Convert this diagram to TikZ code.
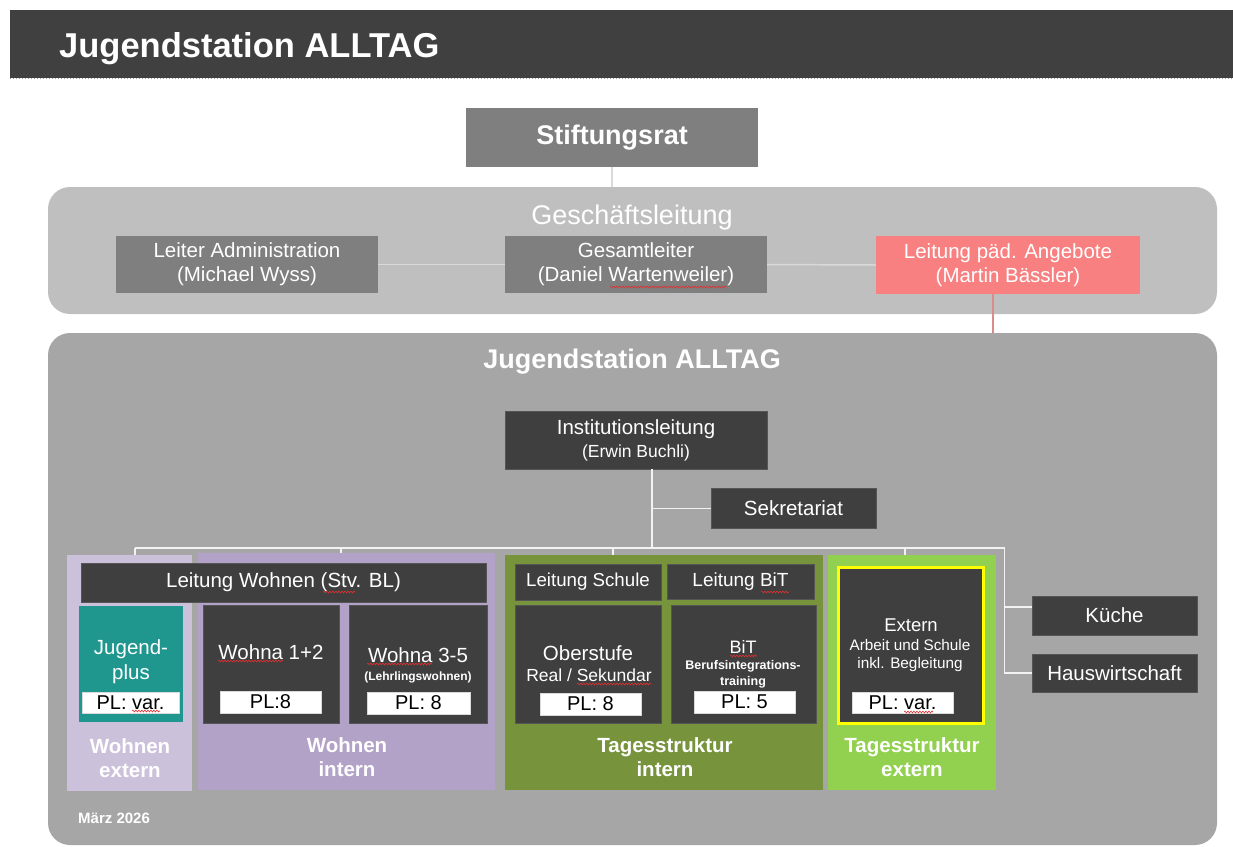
\documentclass[tikz,border=0pt]{standalone}
\usepackage{fontspec}
\setmainfont{Liberation Sans}
\usetikzlibrary{calc,decorations.pathmorphing}
\definecolor{hdr}{HTML}{404040}
\definecolor{midgray}{HTML}{7F7F7F}
\definecolor{glgray}{HTML}{BFBFBF}
\definecolor{jsgray}{HTML}{A6A6A6}
\definecolor{darkbox}{HTML}{3F3F3F}
\definecolor{darkedge}{HTML}{555555}
\definecolor{salmon}{HTML}{F88080}
\definecolor{lavlight}{HTML}{CCC1DA}
\definecolor{lavmid}{HTML}{B3A2C7}
\definecolor{tealbox}{HTML}{1F968E}
\definecolor{olivepanel}{HTML}{77933C}
\definecolor{greenpanel}{HTML}{92D050}
\definecolor{yelline}{HTML}{FFFF00}
\definecolor{connlight}{HTML}{D9D9D9}
\definecolor{connwhite}{HTML}{F2F2F2}
\definecolor{connred}{HTML}{D98C8C}
\definecolor{spellred}{HTML}{E03030}
\newcommand{\fsz}[2]{\fontsize{#1}{#2}\selectfont}
\tikzset{
  boxbase/.style={inner sep=0pt, align=center, text=white},
  graybox/.style={boxbase, fill=midgray},
  darkbx/.style={boxbase, fill=darkbox, draw=darkedge, line width=0.8pt},
  plbox/.style={inner sep=0pt, fill=white, draw=connlight, line width=0.6pt, text=black, font=\fsz{20}{22}},
  panelbox/.style={inner sep=0pt},
  wtxt/.style={inner sep=0pt, text=white, align=center},
  connL/.style={draw=connlight, line width=1.5pt},
  connW/.style={draw=connwhite, line width=1.5pt},
  connR/.style={draw=connred, line width=1.2pt},
  spell/.style={draw=spellred, line width=0.6pt, decorate, decoration={snake, amplitude=0.9pt, segment length=3pt}},
}
\begin{document}
\begin{tikzpicture}[x=1pt,y=-1pt]
\useasboundingbox (0,0) rectangle (1233,846);
\fill[white] (0,0) rectangle (1233,846);

% header
\node[fill=hdr, inner sep=0pt, minimum width=1223pt, minimum height=68pt, anchor=north west] (hdrbar) at (10,10) {};
\draw[dotted, draw=gray!80, line width=1pt] (hdrbar.south west) -- (hdrbar.south east);
\node[wtxt, anchor=base west, font=\bfseries\fsz{34.5}{38}] (title) at (59,57) {Jugendstation ALLTAG};

% Stiftungsrat
\node[graybox, minimum width=292pt, minimum height=59pt, font=\bfseries\fsz{27}{30}] (stift) at (612,137.5) {Stiftungsrat};

% Geschaeftsleitung panel
\node[panelbox, fill=glgray, rounded corners=22pt, minimum width=1169pt, minimum height=127pt] (gl) at (632.5,250.5) {};
\node[wtxt, font=\fsz{27}{30}] (gltitle) at (632,218) {Geschäftsleitung};
\node[graybox, minimum width=262pt, minimum height=57pt, font=\fsz{20.5}{24}] (admin) at (247,264.5) {Leiter Administration\\(Michael Wyss)};
\node[graybox, minimum width=262pt, minimum height=57pt, font=\fsz{20.5}{24}] (gesamt) at (636,264.5) {Gesamtleiter\\(Daniel Wartenweiler)};
\node[boxbase, fill=salmon, minimum width=264pt, minimum height=58pt, font=\fsz{20.5}{24}] (paed) at (1008,265) {Leitung päd. Angebote\\(Martin Bässler)};

\draw[connL] (stift.south) -- (stift.south |- gl.north);
\draw[connL] (admin.east) -- (gesamt.west);
\draw[connL] (gesamt.east) -- (paed.west);

% Jugendstation panel
\node[panelbox, fill=jsgray, rounded corners=22pt, minimum width=1169pt, minimum height=512pt] (js) at (632.5,589) {};
\coordinate (pj) at (993,333);
\draw[connR] (pj |- paed.south) -- (pj);
\node[wtxt, font=\bfseries\fsz{27}{30}] (jstitle) at (632,362) {Jugendstation ALLTAG};

\node[darkbx, minimum width=262pt, minimum height=58pt, font=\fsz{20.5}{23}] (inst) at (636,440) {Institutionsleitung\\{\fsz{17.5}{20}(Erwin Buchli)}};
\node[darkbx, minimum width=165pt, minimum height=40pt, font=\fsz{20.5}{24}] (sek) at (793.5,508.5) {Sekretariat};

% department panels
\node[panelbox, fill=lavlight, minimum width=125pt, minimum height=236pt] (wext) at (129.5,673) {};
\node[panelbox, fill=lavmid, minimum width=297pt, minimum height=237pt] (wint) at (346.5,671.5) {};
\node[panelbox, fill=olivepanel, minimum width=318pt, minimum height=235pt] (tint) at (664,672.5) {};
\node[panelbox, fill=greenpanel, minimum width=168pt, minimum height=235pt] (text) at (912,672.5) {};

% connectors inside
\coordinate (bus) at (652,548);
\coordinate (busL) at (135,548);
\coordinate (busR) at (1004.5,548);
\coordinate (dwi) at (341,548);
\coordinate (dti) at (613,548);
\coordinate (dte) at (905,548);
\coordinate (kb) at (1004.5,607);
\draw[connW] (inst.south -| bus) -- (bus);
\draw[connW] (bus |- sek.west) -- (sek.west);
\draw[connW] (busL) -- (busR);
\draw[connW] (busL) -- (busL |- wext.north);
\draw[connW] (dwi) -- (dwi |- wint.north);
\draw[connW] (dti) -- (dti |- tint.north);
\draw[connW] (dte) -- (dte |- text.north);

% Wohnen
\node[darkbx, minimum width=405pt, minimum height=39pt, font=\fsz{20.5}{24}] (lw) at (283.5,582.5) {Leitung Wohnen (Stv. BL)};
\node[boxbase, fill=tealbox, minimum width=104pt, minimum height=116pt] (jp) at (131,664) {};
\node[wtxt, font=\fsz{20.5}{25}] (jptxt) at (131,662) {Jugend-\\plus};
\node[plbox, minimum width=97pt, minimum height=21pt] (jppl) at (130.5,702.5) {PL: var.};

\node[darkbx, minimum width=136pt, minimum height=118pt] (w12) at (271,664) {};
\node[wtxt, font=\fsz{20.5}{24}] (w12txt) at (271,652) {Wohna 1+2};
\node[plbox, minimum width=101pt, minimum height=22pt] (w12pl) at (270.5,702) {PL:8};

\node[darkbx, minimum width=138pt, minimum height=118pt] (w35) at (418,664) {};
\node[wtxt, font=\fsz{20.5}{24}] (w35txt) at (418,655) {Wohna 3-5};
\node[wtxt, font=\bfseries\fsz{12}{14}] (w35sub) at (418,677) {(Lehrlingswohnen)};
\node[plbox, minimum width=103pt, minimum height=22pt] (w35pl) at (418.5,703) {PL: 8};

\node[wtxt, font=\bfseries\fsz{20.5}{24}] (wextlbl) at (130,758.5) {Wohnen\\extern};
\node[wtxt, font=\bfseries\fsz{20.5}{24}] (wintlbl) at (347,757.5) {Wohnen\\intern};

% Tagesstruktur intern
\node[darkbx, minimum width=146pt, minimum height=36pt, font=\fsz{18.7}{22}] (ls) at (588,582) {Leitung Schule};
\node[darkbx, minimum width=147pt, minimum height=35pt, font=\fsz{19}{22}] (lb) at (740.5,581.5) {Leitung BiT};
\node[darkbx, minimum width=146pt, minimum height=118pt] (ob) at (588,664) {};
\node[wtxt, font=\fsz{20.5}{24}] (obtxt) at (588,653) {Oberstufe};
\node[wtxt, font=\fsz{17.5}{20}] (obsub) at (589,675) {Real / Sekundar};
\node[plbox, minimum width=101pt, minimum height=22pt] (obpl) at (590.5,704) {PL: 8};

\node[darkbx, minimum width=145pt, minimum height=118pt] (bit) at (743.5,664) {};
\node[wtxt, font=\fsz{18}{20}] (bittxt) at (743,647) {BiT};
\node[wtxt, font=\bfseries\fsz{12.5}{16.5}] (bitsub) at (743,674.5) {Berufsintegrations-\\training};
\node[plbox, minimum width=101pt, minimum height=22pt] (bitpl) at (744.5,702) {PL: 5};

\node[wtxt, font=\bfseries\fsz{20.5}{24}] (tintlbl) at (665,757.5) {Tagesstruktur\\intern};

% Tagesstruktur extern
\node[boxbase, fill=darkbox, draw=yelline, line width=3pt, minimum width=145pt, minimum height=156pt] (ext) at (911,645.5) {};
\node[wtxt, font=\fsz{18.5}{21}] (exttxt) at (911,625) {Extern};
\node[wtxt, font=\fsz{15.3}{18}] (extsub) at (910,656) {Arbeit und Schule\\inkl. Begleitung};
\node[plbox, minimum width=101pt, minimum height=21pt] (extpl) at (902.5,702.5) {PL: var.};
\node[wtxt, font=\bfseries\fsz{20.5}{24}] (textlbl) at (912,757.5) {Tagesstruktur\\extern};

% Kueche / Hauswirtschaft
\node[darkbx, minimum width=165pt, minimum height=39pt, font=\fsz{20.5}{24}] (kue) at (1114.5,615.5) {Küche};
\node[darkbx, minimum width=165pt, minimum height=38pt, font=\fsz{20.5}{24}] (hw) at (1114.5,673) {Hauswirtschaft};
\draw[connW] (busR) -- (busR |- hw.west) -- (hw.west);
\draw[connW] (kb) -- (kb -| kue.west);

% spell-check squiggles as shown in the reference
\draw[spell] (610,287) -- (727,287);
\draw[spell] (323,592) -- (355,592);
\draw[spell] (132,711) -- (160,711);
\draw[spell] (218,661) -- (283,661);
\draw[spell] (367,664) -- (432,664);
\draw[spell] (577,684) -- (651,684);
\draw[spell] (761,592) -- (789,592);
\draw[spell] (730,656) -- (757,656);
\draw[spell] (904,712) -- (933,712);

\node[wtxt, anchor=west, font=\bfseries\fsz{15}{18}] (datum) at (78,818) {März 2026};
\end{tikzpicture}
\end{document}
